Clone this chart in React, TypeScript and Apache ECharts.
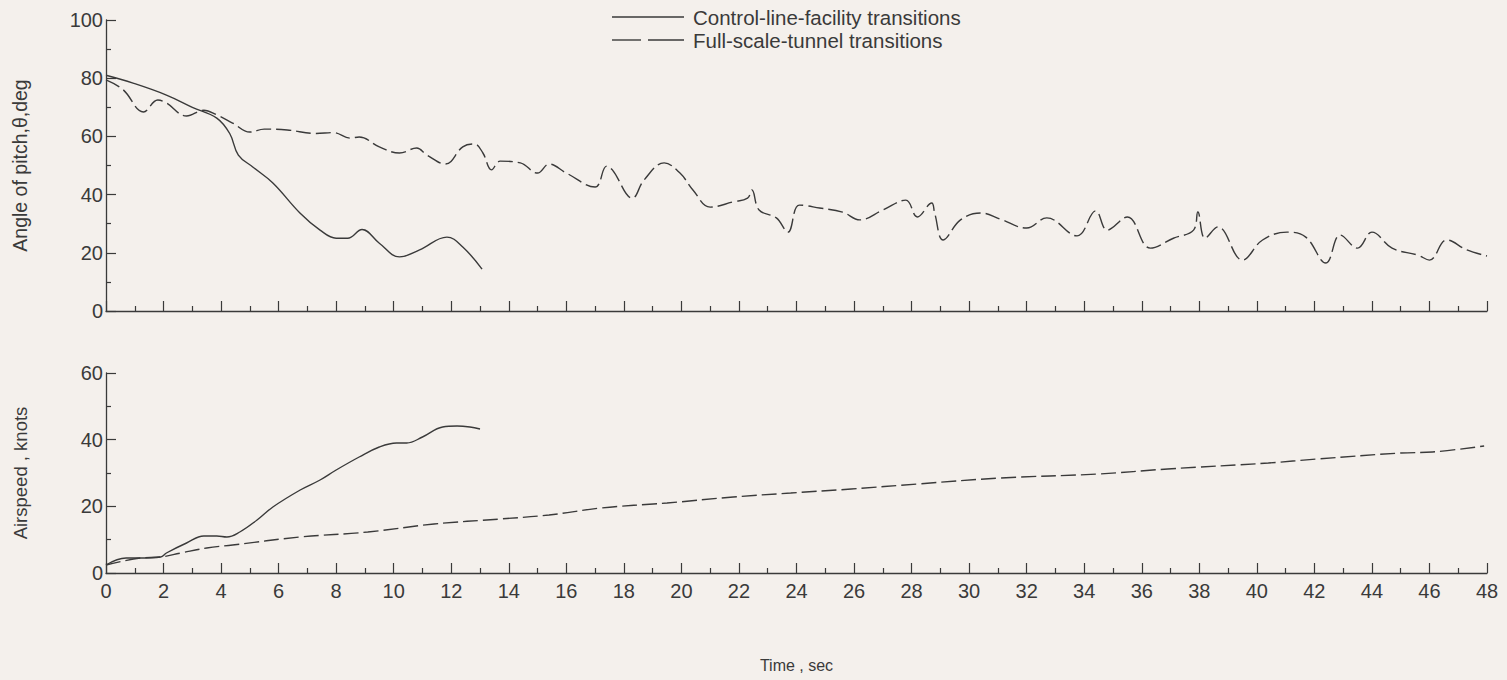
import React, { useEffect, useRef } from "react";
import * as echarts from "echarts";

const timeTicks = [0, 2, 4, 6, 8, 10, 12, 14, 16, 18, 20, 22, 24, 26, 28, 30, 32, 34, 36, 38, 40, 42, 44, 46, 48];

const pitchControlTime = [0, 0.94, 2.1, 3.0, 3.85, 4.3, 4.6, 5.1, 5.8, 6.74, 7.44, 8.0, 8.4, 8.9, 9.5, 10.2, 10.9, 11.85, 12.4, 13.07];
const pitchControlDeg = [81, 78.3, 74.2, 70, 66.3, 61, 53.6, 49.5, 44, 33.7, 27.8, 25, 25, 28, 23.3, 18.6, 21, 25.4, 22, 14.4];

const pitchTunnelTime = [0, 0.6, 1.3, 1.8, 2.1, 2.8, 3.4, 3.85, 4.4, 5.0, 5.5, 6.3, 7.3, 7.9, 8.5, 8.8, 9.5, 10.2, 10.8, 11.15, 11.8, 12.4, 12.8, 13.1, 13.4, 13.7, 14.4, 15.0, 15.4, 16.0, 17.0, 17.4, 17.6, 18.3, 18.7, 19.4, 19.95, 20.4, 21.0, 21.8, 22.3, 22.45, 22.7, 23.3, 23.7, 24.1, 24.8, 25.6, 26.2, 27.0, 27.8, 28.2, 28.7, 28.8, 29.1, 29.7, 30.4, 31.1, 32.0, 32.7, 33.75, 34.4, 34.8, 35.5, 36.3, 37.1, 37.8, 37.95, 38.2, 38.65, 39.5, 40.2, 41.05, 41.7, 42.4, 42.9, 43.5, 44.0, 44.7, 45.6, 46.0, 46.6, 47.3, 48];
const pitchTunnelDeg = [79.4, 76, 68.4, 72.5, 71.5, 67, 69, 67.4, 64.6, 61.5, 62.5, 62.2, 61, 61.3, 59.4, 59.8, 56.4, 54.3, 56, 53.6, 50.5, 56.4, 57.4, 54.3, 48.5, 51.5, 50.9, 47.4, 50.5, 47.4, 42.6, 49.8, 48.5, 38.8, 45, 50.9, 47.4, 41.6, 35.7, 37.5, 38.8, 41.6, 34.7, 32, 27.1, 36.4, 35.4, 34, 31.3, 34.7, 38.1, 32.3, 37.1, 33.7, 24.4, 31.3, 33.7, 31.5, 28.5, 32, 25.8, 34.4, 27.8, 32.3, 21.6, 25, 27.8, 34, 25, 28.9, 17.5, 24.4, 27.1, 25.4, 16.5, 26.1, 21.6, 27.1, 21.6, 19.2, 17.5, 24.4, 21, 18.9];

const speedControlTime = [0, 0.7, 1.2, 1.9, 2.1, 2.8, 3.4, 3.85, 4.2, 4.65, 5.25, 5.8, 6.75, 7.44, 8.0, 8.8, 9.5, 10.1, 10.45, 11.0, 11.7, 12.2, 12.65, 13.0];
const speedControlKnots = [2.4, 4.5, 4.5, 4.8, 6, 9, 11.1, 11.1, 10.8, 12.3, 15.9, 19.8, 24.9, 27.9, 30.9, 34.8, 37.8, 39, 39, 40.8, 43.8, 44.1, 43.8, 43.2];

const speedTunnelTime = [0, 1.2, 1.9, 2.6, 3.5, 4.4, 6.75, 9.1, 11.4, 13.7, 15.4, 17.2, 19.5, 21.8, 23.8, 25.9, 28.2, 31.1, 34.5, 36.9, 40.4, 42.1, 45, 46.1, 47.9];
const speedTunnelKnots = [2.4, 4.5, 4.8, 6, 7.5, 8.4, 10.8, 12.3, 14.7, 16.2, 17.4, 19.5, 21, 22.8, 24, 25.2, 26.7, 28.5, 29.7, 31.2, 33, 34.2, 36, 36.3, 38.1];

const controlName = "Control-line-facility transitions";
const tunnelName = "Full-scale-tunnel transitions";

const pairs = (t: number[], v: number[]) => t.map((x, i) => [x, v[i]]);

const INK = "#3a3a3a";
const FONT = "Liberation Sans";

export default function App() {
  const ref = useRef<HTMLDivElement>(null);
  useEffect(() => {
    const chart = echarts.init(ref.current!, undefined, { renderer: "svg" });
    const axisLine = { lineStyle: { color: INK, width: 1.3 } };
    const tick = { inside: true, length: 10, lineStyle: { color: INK, width: 1.2 } };
    const minor = { show: true, splitNumber: 2, length: 5, lineStyle: { color: INK, width: 1.2 } };
    const label = { color: INK, fontFamily: FONT, fontSize: 20 };
    const xBase = {
      type: "value",
      min: 0,
      max: 48,
      interval: 2,
      axisLine,
      axisTick: tick,
      minorTick: minor,
      splitLine: { show: false },
    };
    const solid = { color: INK, width: 1.4, type: "solid" };
    const dashed = { color: INK, width: 1.4, type: [15, 5] };
    const legendText = { color: INK, fontFamily: FONT, fontSize: 20.5 };
    chart.setOption({
      animation: false,
      backgroundColor: "#f4f0ec",
      textStyle: { fontFamily: FONT },
      graphic: [
        { type: "line", shape: { x1: 612, y1: 17, x2: 684, y2: 17 }, style: { stroke: INK, lineWidth: 1.4 } },
        { type: "text", x: 693, y: 17, style: { text: controlName, ...legendText, fill: INK, verticalAlign: "middle" } },
        { type: "line", shape: { x1: 612, y1: 40, x2: 641, y2: 40 }, style: { stroke: INK, lineWidth: 1.4 } },
        { type: "line", shape: { x1: 648, y1: 40, x2: 684, y2: 40 }, style: { stroke: INK, lineWidth: 1.4 } },
        { type: "text", x: 693, y: 40, style: { text: tunnelName, ...legendText, fill: INK, verticalAlign: "middle" } },
      ],
      grid: [
        { left: 106, top: 20, width: 1381, height: 291 },
        { left: 106, top: 373, width: 1381, height: 200 },
      ],
      xAxis: [
        { ...xBase, gridIndex: 0, axisLabel: { show: false } },
        {
          ...xBase,
          gridIndex: 1,
          axisLabel: { ...label, margin: 8, formatter: (v: number) => (timeTicks.includes(v) ? String(v) : "") },
          name: "Time , sec",
          nameLocation: "middle",
          nameGap: 84,
          nameTextStyle: { color: INK, fontFamily: FONT, fontSize: 16 },
        },
      ],
      yAxis: [
        {
          type: "value",
          gridIndex: 0,
          min: 0,
          max: 100,
          interval: 20,
          axisLine: { show: true, ...axisLine },
          axisTick: tick,
          minorTick: minor,
          splitLine: { show: false },
          axisLabel: { ...label, margin: 3 },
          name: "Angle of pitch,θ,deg",
          nameLocation: "middle",
          nameGap: 76,
          nameTextStyle: { color: INK, fontFamily: FONT, fontSize: 19.5 },
        },
        {
          type: "value",
          gridIndex: 1,
          min: 0,
          max: 60,
          interval: 20,
          axisLine: { show: true, ...axisLine },
          axisTick: tick,
          minorTick: minor,
          splitLine: { show: false },
          axisLabel: { ...label, margin: 3 },
          name: "Airspeed , knots",
          nameLocation: "middle",
          nameGap: 76,
          nameTextStyle: { color: INK, fontFamily: FONT, fontSize: 18.5 },
        },
      ],
      series: [
        {
          name: controlName,
          type: "line",
          xAxisIndex: 0,
          yAxisIndex: 0,
          data: pairs(pitchControlTime, pitchControlDeg),
          smooth: 0.4,
          symbol: "none",
          lineStyle: solid,
          itemStyle: { color: INK },
        },
        {
          name: tunnelName,
          type: "line",
          xAxisIndex: 0,
          yAxisIndex: 0,
          data: pairs(pitchTunnelTime, pitchTunnelDeg),
          smooth: 0.4,
          symbol: "none",
          lineStyle: dashed,
          itemStyle: { color: INK },
        },
        {
          name: controlName,
          type: "line",
          xAxisIndex: 1,
          yAxisIndex: 1,
          data: pairs(speedControlTime, speedControlKnots),
          smooth: 0.4,
          symbol: "none",
          lineStyle: solid,
          itemStyle: { color: INK },
        },
        {
          name: tunnelName,
          type: "line",
          xAxisIndex: 1,
          yAxisIndex: 1,
          data: pairs(speedTunnelTime, speedTunnelKnots),
          smooth: 0.4,
          symbol: "none",
          lineStyle: dashed,
          itemStyle: { color: INK },
        },
      ],
    });
    return () => chart.dispose();
  }, []);
  return (
    <div
      ref={ref}
      style={{ position: "fixed", left: 0, top: 0, width: 1507, height: 680 }}
    />
  );
}
